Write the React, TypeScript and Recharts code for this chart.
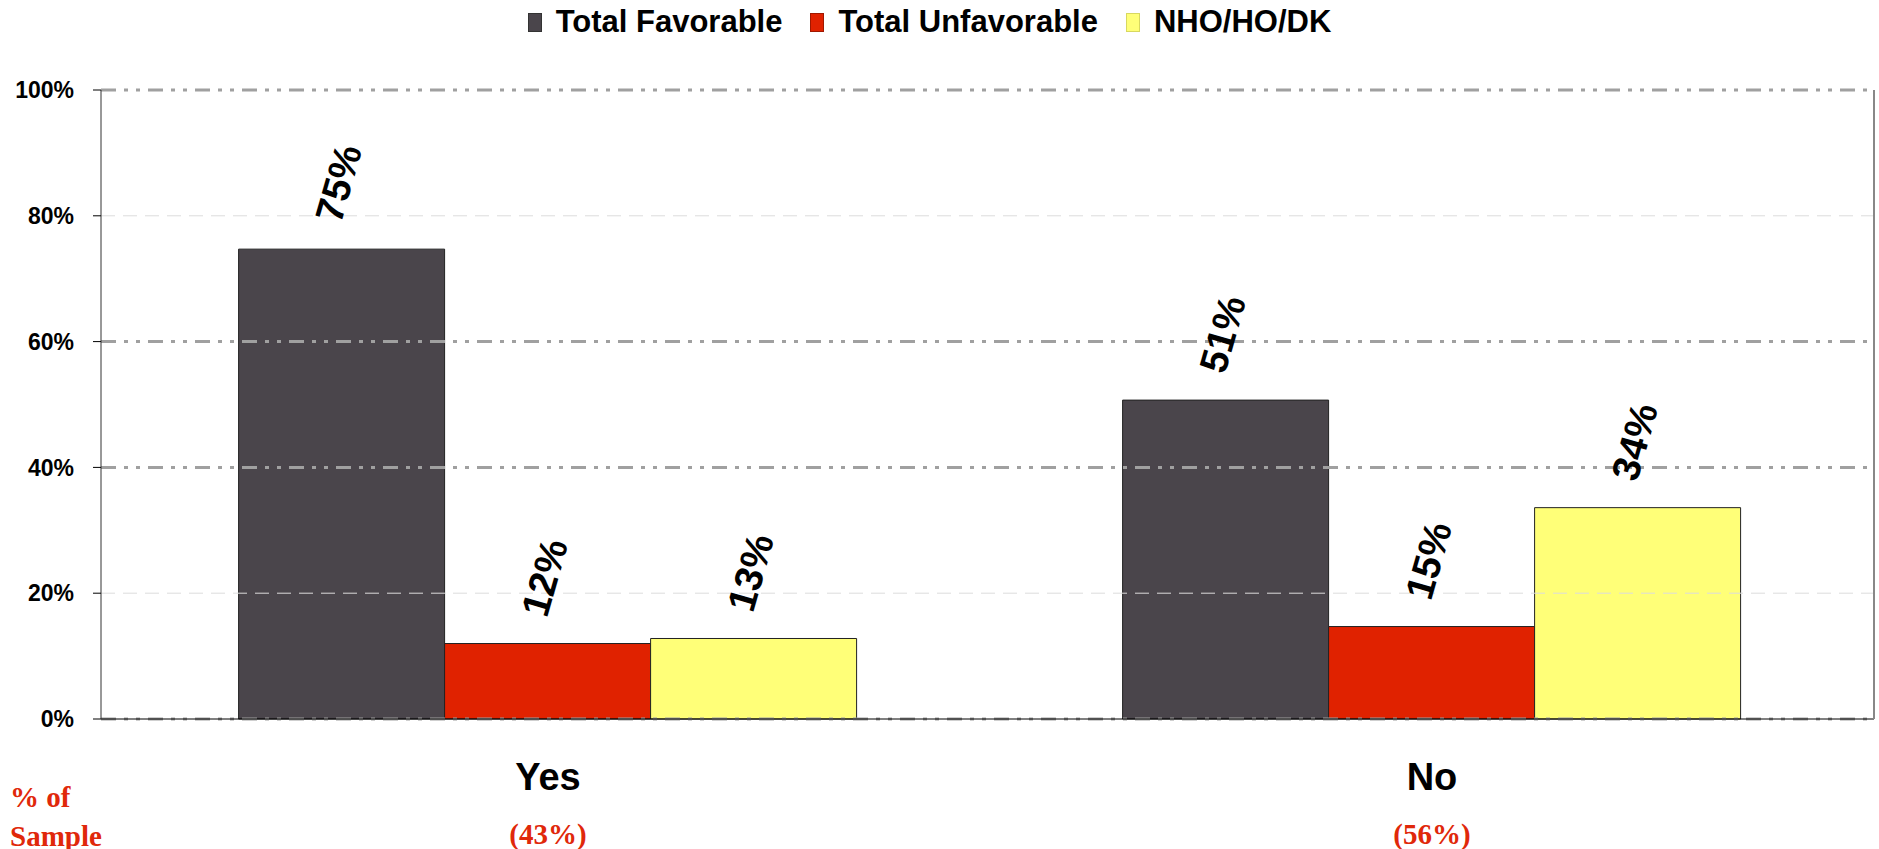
import React from 'react';
import {
  BarChart,
  Bar,
  XAxis,
  YAxis,
  ReferenceLine,
  LabelList
} from 'recharts';

const categories = ['Yes', 'No'];
const sampleShares = ['(43%)', '(56%)'];
const favorable = [74.7, 50.7];
const unfavorable = [12.0, 14.7];
const noOpinion = [12.8, 33.6];
const yTicks = [0, 20, 40, 60, 80, 100];
const heavyGrid = [0, 40, 60, 100];
const lightGrid = [20, 80];

const seriesNames = ['Total Favorable', 'Total Unfavorable', 'NHO/HO/DK'];
const seriesKeys = ['fav', 'unfav', 'nho'];
const colors = ['#4a454b', '#e02200', '#ffff78'];
const borders = ['#333', '#a01800', '#d8d860'];

const data = categories.map((c, i) => ({
  name: c,
  share: sampleShares[i],
  fav: favorable[i],
  unfav: unfavorable[i],
  nho: noOpinion[i]
}));

const FONT = '"Liberation Sans", Arial, sans-serif';
const SERIF = '"Liberation Serif", "Times New Roman", serif';
const RED_TEXT = '#e0280a';

const RotatedLabel = (props: any) => {
  const { x, y, width, value } = props;
  const cx = x + width / 2 - 3;
  const cy = y - 66;
  return (
    <text
      x={cx}
      y={cy}
      textAnchor="middle"
      dominantBaseline="central"
      transform={`rotate(-74, ${cx}, ${cy})`}
      fontFamily={FONT}
      fontWeight="bold"
      fontSize={39}
      fill="#000"
    >
      {`${Math.round(value)}%`}
    </text>
  );
};

const CategoryTick = (props: any) => {
  const { x, y, payload, index } = props;
  return (
    <g>
      <text
        x={x}
        y={y + 58}
        textAnchor="middle"
        dominantBaseline="central"
        fontFamily={FONT}
        fontWeight="bold"
        fontSize={38}
        fill="#000"
      >
        {payload.value}
      </text>
      <text
        x={x}
        y={y + 115}
        textAnchor="middle"
        dominantBaseline="central"
        fontFamily={SERIF}
        fontWeight="bold"
        fontSize={29}
        fill={RED_TEXT}
      >
        {sampleShares[index]}
      </text>
    </g>
  );
};

const App = () => {
  return (
    <div style={{ position: 'absolute', left: 0, top: 0, width: 1879, height: 849, background: '#fff' }}>
      <div
        style={{
          position: 'absolute',
          left: 0,
          top: 0,
          width: 1879,
          height: 44,
          display: 'flex',
          justifyContent: 'center',
          alignItems: 'center',
          gap: 28,
          paddingRight: 20,
          boxSizing: 'border-box'
        }}
      >
        {seriesNames.map((n, i) => (
          <div key={n} style={{ display: 'flex', alignItems: 'center' }}>
            <div
              style={{
                width: 12,
                height: 17,
                background: colors[i],
                border: `1px solid ${borders[i]}`,
                marginRight: 14
              }}
            />
            <span style={{ fontFamily: FONT, fontWeight: 'bold', fontSize: 31, color: '#000' }}>{n}</span>
          </div>
        ))}
      </div>

      <div style={{ position: 'absolute', left: 0, top: 0 }}>
        <BarChart
          width={1879}
          height={849}
          data={data}
          margin={{ top: 90, right: 0, bottom: 0, left: 0 }}
          barCategoryGap="15%"
          barGap={0}
        >
          <XAxis
            dataKey="name"
            height={130}
            tickLine={false}
            tickSize={0}
            tickMargin={0}
            axisLine={{ stroke: '#000', strokeWidth: 1 }}
            tick={<CategoryTick />}
            interval={0}
            padding={{ left: 5, right: 0 }}
          />
          <YAxis
            domain={[0, 100]}
            ticks={yTicks}
            width={101}
            tickSize={8}
            tickMargin={19}
            tickLine={{ stroke: '#000' }}
            axisLine={{ stroke: '#333', strokeWidth: 1 }}
            tickFormatter={(v) => `${v}%`}
            tick={{ fontFamily: FONT, fontWeight: 'bold', fontSize: 23, fill: '#000' }}
          />
          <YAxis
            yAxisId="right"
            orientation="right"
            width={5}
            domain={[0, 100]}
            tick={false}
            tickLine={false}
            axisLine={{ stroke: '#888', strokeWidth: 2 }}
          />
          {lightGrid.map((v) => (
            <ReferenceLine key={`l${v}`} y={v} stroke="#dcdcdc" strokeWidth={1} strokeDasharray="14 8" />
          ))}
          {heavyGrid.map((v) => (
            <ReferenceLine key={`h${v}`} y={v} stroke="#a0a0a0" strokeWidth={3} strokeDasharray="15 8 4 8 4 8" />
          ))}
          {seriesKeys.map((k, i) => (
            <Bar
              key={k}
              dataKey={k}
              name={seriesNames[i]}
              fill={colors[i]}
              stroke="#222"
              strokeWidth={1}
              isAnimationActive={false}
            >
              <LabelList dataKey={k} content={<RotatedLabel />} />
            </Bar>
          ))}
        </BarChart>
      </div>

      <div
        style={{
          position: 'absolute',
          left: 10,
          top: 778,
          fontFamily: SERIF,
          fontWeight: 'bold',
          fontSize: 29,
          color: RED_TEXT,
          lineHeight: '39px'
        }}
      >
        % of
        <br />
        Sample
      </div>
    </div>
  );
};

export default App;
